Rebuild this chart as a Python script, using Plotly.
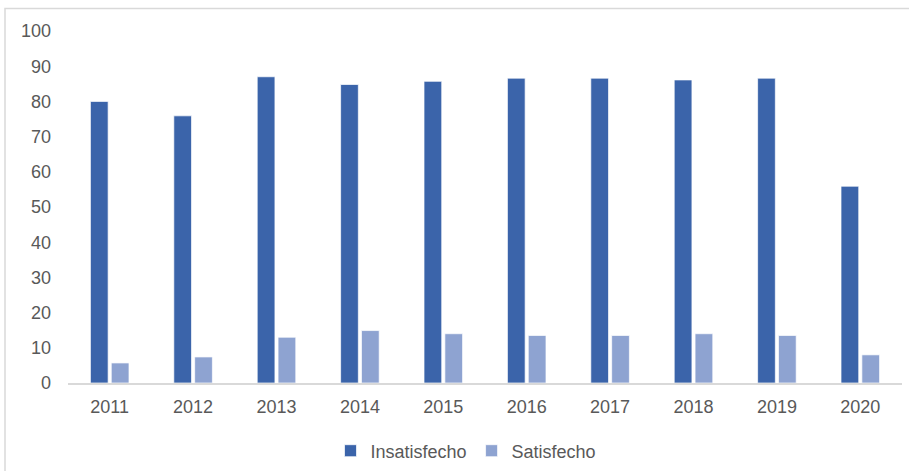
import plotly.graph_objects as go

years = ["2011", "2012", "2013", "2014", "2015", "2016", "2017", "2018", "2019", "2020"]
insatisfecho = [80.0, 75.9, 87.0, 84.8, 85.7, 86.6, 86.6, 86.1, 86.6, 55.9]
satisfecho = [5.7, 7.4, 13.0, 14.9, 14.0, 13.5, 13.5, 14.0, 13.5, 8.0]
y_ticks = [0, 10, 20, 30, 40, 50, 60, 70, 80, 90, 100]

W, H = 909, 471
ml, mr, mt, mb = 68, 7, 31, 88
pw, ph = W - ml - mr, H - mt - mb

font_col = "#595959"
fnt = "Liberation Sans, Arial, sans-serif"

fig = go.Figure()
fig.add_trace(go.Bar(x=years, y=insatisfecho, name="Insatisfecho",
                     marker=dict(color="#3B64AA", line=dict(color="rgba(255,255,255,0.7)", width=1))))
fig.add_trace(go.Bar(x=years, y=satisfecho, name="Satisfecho",
                     marker=dict(color="#8EA3D1", line=dict(color="rgba(255,255,255,0.7)", width=1))))

fig.update_layout(
    width=W, height=H,
    margin=dict(l=ml, r=mr, t=mt, b=mb, autoexpand=False),
    paper_bgcolor="white", plot_bgcolor="white",
    barmode="group", bargap=0.5, bargroupgap=0.15,
    font=dict(family=fnt, size=18, color=font_col),
    showlegend=True,
    legend=dict(orientation="h", x=(466 - ml) / pw, xanchor="center",
                y=(H - mb - 451) / ph, yanchor="middle",
                font=dict(size=18, color=font_col), bgcolor="rgba(0,0,0,0)"),
    xaxis=dict(showgrid=False, showline=True, linecolor="#D9D9D9", linewidth=2,
               ticks="", ticklabelstandoff=6, automargin=False,
               tickfont=dict(size=18, color=font_col)),
    yaxis=dict(range=[0, 100], tickvals=y_ticks, showgrid=False, zeroline=False,
               showline=False, ticks="", ticklabelstandoff=16, automargin=False,
               tickfont=dict(size=18, color=font_col)),
    shapes=[dict(type="rect", xref="paper", yref="paper",
                 x0=(5 - ml) / pw, x1=(915 - ml) / pw,
                 y0=(H - mb - 480) / ph, y1=(H - mb - 8.5) / ph,
                 line=dict(color="#D9D9D9", width=1.5), fillcolor="rgba(0,0,0,0)", layer="below")],
)

fig.write_html("out.html")
